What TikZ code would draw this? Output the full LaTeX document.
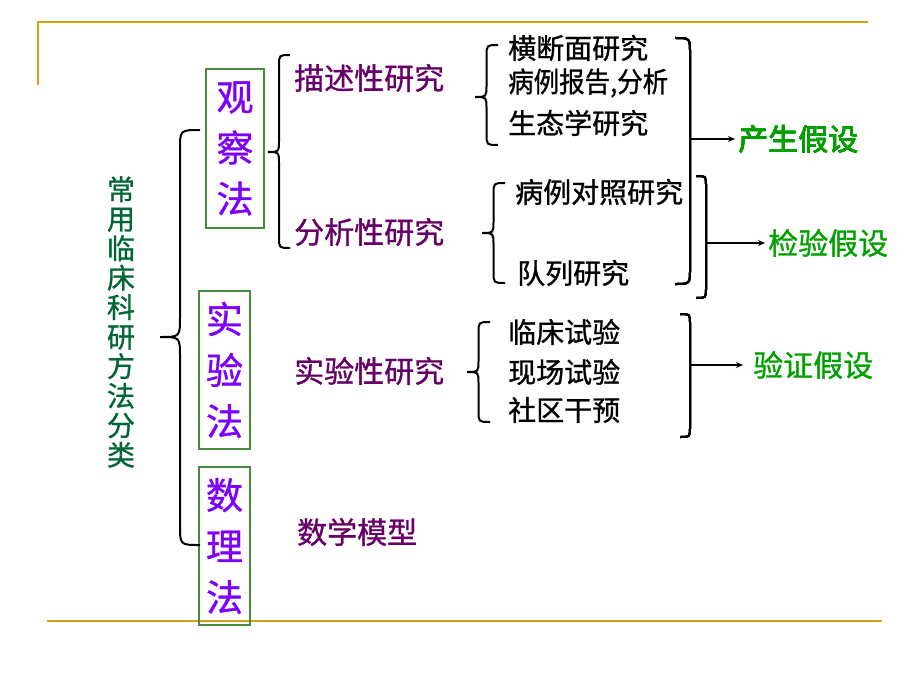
\documentclass[tikz,border=0pt]{standalone}
\usepackage{fontspec}
\newfontfamily\cjk{Noto Sans CJK SC}[FakeBold=1]
\usetikzlibrary{arrows.meta}
\definecolor{gold}{RGB}{210,160,20}
\definecolor{boxgreen}{RGB}{70,140,60}
\definecolor{methviolet}{RGB}{125,0,255}
\definecolor{plum}{RGB}{102,0,102}
\definecolor{hypgreen}{RGB}{0,160,0}
\definecolor{titlegreen}{RGB}{0,102,51}
% tip x, end x, top, middle, bottom
\newcommand{\lbrc}[5]{\pgfmathsetmacro\bm{(#1+#2)/2}\pgfmathsetmacro\br{(#2-#1)/2}
	\draw[line width=2pt] (#2,#3) .. controls (\bm,#3) .. (\bm,#3+\br) -- (\bm,#4-\br)
	.. controls (\bm,#4) .. (#1,#4) .. controls (\bm,#4) .. (\bm,#4+\br) -- (\bm,#5-\br)
	.. controls (\bm,#5) .. (#2,#5);}
% x, top, bottom, radius
\newcommand{\rbrc}[4]{\draw[line width=2pt] (#1-#4,#2) .. controls (#1,#2) .. (#1,#2+#4)
	-- (#1,#3-#4) .. controls (#1,#3) .. (#1-#4,#3);}
\begin{document}
\begin{tikzpicture}[x=1pt,y=-1pt,
	meth/.style={draw=boxgreen,line width=2pt,text=methviolet,align=center,inner sep=0pt,
		font={\cjk\fontsize{37}{51}\selectfont}},
	study/.style={text=plum,anchor=west,inner sep=0pt,font={\cjk\fontsize{30}{30}\selectfont}},
	item/.style={anchor=west,inner sep=0pt,font={\cjk\fontsize{28}{28}\selectfont}},
	hyp/.style={text=hypgreen,anchor=west,inner sep=0pt,font={\cjk\fontsize{30}{30}\selectfont}},
	arr/.style={line width=1.5pt,-{Stealth[length=7pt,width=6pt]}}]
	\fill[white] (0,0) rectangle (920,690);
	\useasboundingbox (0,0) rectangle (920,690);
	\draw[gold,line width=2pt] (38,85) -- (38,22) -- (868,22);
	\draw[gold,line width=2pt] (47,621) -- (882,621);
	\node[titlegreen,align=center,inner sep=0pt,font={\cjk\fontsize{28}{29.5}\selectfont}]
		(cls) at (121,322) {常\\用\\临\\床\\科\\研\\方\\法\\分\\类};
	\node[meth,minimum width=58,minimum height=159] (obs) at (235,148.5) {观\\察\\法};
	\node[meth,minimum width=51,minimum height=158] (exp) at (224.5,370) {实\\验\\法};
	\node[meth,minimum width=51,minimum height=158] (math) at (224.5,546) {数\\理\\法};
	\node[study] (desc) at (294,78) {描述性研究};
	\node[study] (anal) at (294,232) {分析性研究};
	\node[study] (expst) at (294,371) {实验性研究};
	\node[study] (model) at (297,532) {数学模型};
	\foreach[count=\k] \t/\x/\y in {横断面研究/508/48,{\scalebox{0.91}[1]{病例报告,分析}}/508/83,
		生态学研究/508/123,病例对照研究/515/192,队列研究/517/273,
		临床试验/508/332,现场试验/508/372,社区干预/508/410}
		\node[item] (it\k) at (\x,\y) {\t};
	\foreach \a/\b/\c/\d/\e in {160/200/130/337/545,268/290/55/152/248,
		475/498/45/97/145,482/505/183/233/283,467/490/322/372/422}
		\lbrc{\a}{\b}{\c}{\d}{\e}
	\rbrc{690}{38}{284}{15}
	\rbrc{706}{176}{298}{10}
	\rbrc{690}{314}{437}{10}
	\node[hyp] (gen) at (738,139) {产生假设};
	\node[hyp] (test) at (768,243) {检验假设};
	\node[hyp] (verify) at (753,365) {验证假设};
	\coordinate (b1) at (690,139);
	\coordinate (b2) at (706,243);
	\coordinate (b3) at (690,365);
	\draw[arr,shorten >=3pt] (b1) -- (gen);
	\draw[arr,shorten >=3pt] (b2) -- (test);
	\draw[arr,shorten >=10pt] (b3) -- (verify);
\end{tikzpicture}
\end{document}
